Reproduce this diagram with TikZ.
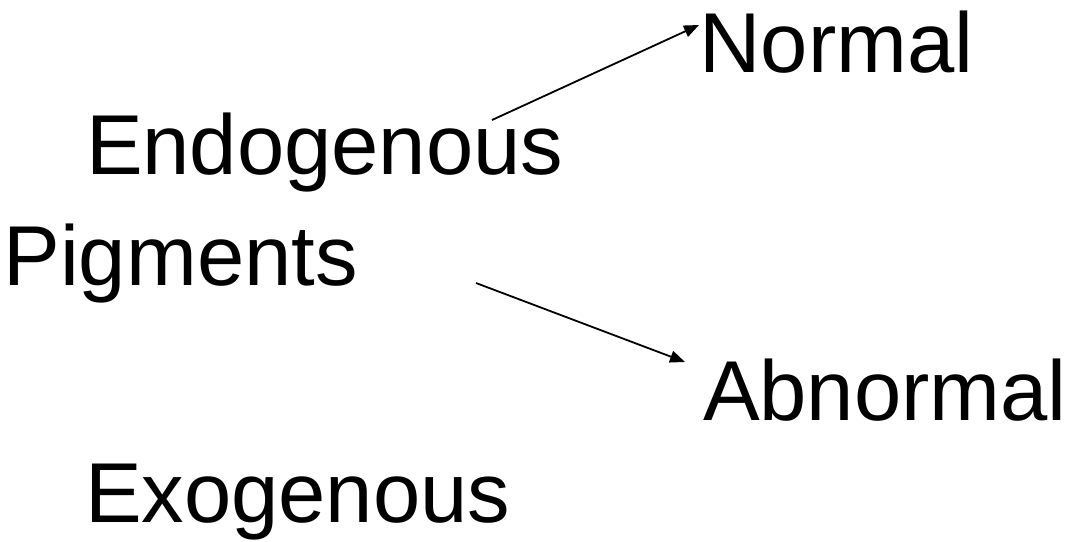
\documentclass[tikz,border=0pt]{standalone}
\usepackage{fontspec}
\setmainfont{Liberation Sans}
\usetikzlibrary{arrows.meta}
\begin{document}
\begin{tikzpicture}[x=1pt,y=-1pt,
  lbl/.style={inner sep=0pt, outer sep=0pt, anchor=base west, font=\fontsize{85}{90}\selectfont},
  conn/.style={line width=1.8pt, -{Triangle[length=15pt,width=12pt]}}]
\useasboundingbox (0,0) rectangle (1068,541);
\node[lbl] (normal) at (699.5,72) {Normal};
\node[lbl] (endo) at (86,174) {Endogenous};
\node[lbl] (pig) at (3.4,285) {Pigments};
\node[lbl] (abn) at (703,420) {Abnormal};
\node[lbl] (exo) at (85,522) {Exogenous};
\coordinate (e1) at (492,120);
\coordinate (n1) at (699,25);
\coordinate (p1) at (476,283);
\coordinate (a1) at (685,362);
\draw[conn] (e1) -- (n1);
\draw[conn] (p1) -- (a1);
\end{tikzpicture}
\end{document}
